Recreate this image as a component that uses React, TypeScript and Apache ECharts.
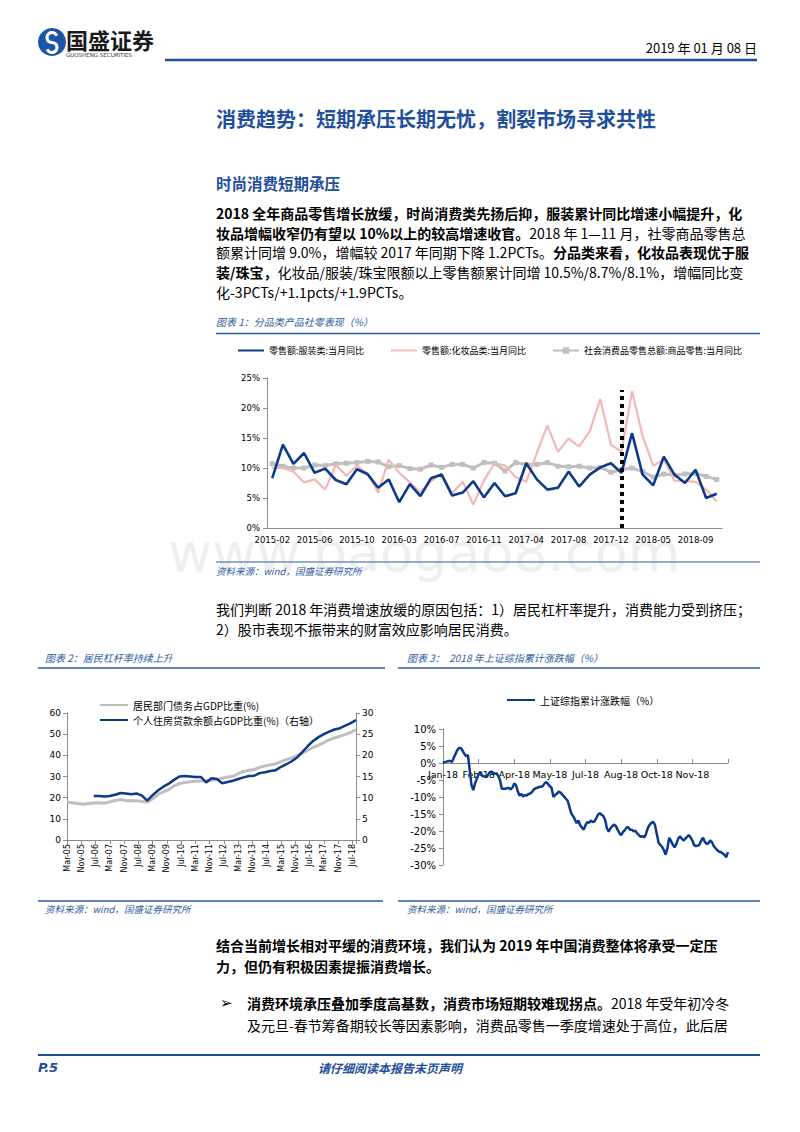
import React, { useEffect, useRef } from 'react';
import * as echarts from 'echarts';

// ---------- Chart 1: 分品类产品社零表现 ----------
const retailMonths = [
  '2015-02', '2015-03', '2015-04', '2015-05', '2015-06', '2015-07', '2015-08', '2015-09', '2015-10', '2015-11', '2015-12',
  '2016-02', '2016-03', '2016-04', '2016-05', '2016-06', '2016-07', '2016-08', '2016-09', '2016-10', '2016-11', '2016-12',
  '2017-02', '2017-03', '2017-04', '2017-05', '2017-06', '2017-07', '2017-08', '2017-09', '2017-10', '2017-11', '2017-12',
  '2018-02', '2018-03', '2018-04', '2018-05', '2018-06', '2018-07', '2018-08', '2018-09', '2018-10', '2018-11',
];
const apparelYoY = [
  8.3, 13.9, 10.7, 12.5, 9.2, 9.9, 8.0, 7.3, 9.8, 9.0, 6.7,
  8.1, 4.3, 7.3, 5.3, 8.3, 8.9, 5.4, 5.9, 7.8, 5.1, 7.5,
  5.3, 5.8, 10.8, 8.1, 6.4, 6.7, 9.4, 6.9, 8.9, 10.1, 10.8,
  9.2, 15.8, 8.9, 7.1, 11.9, 8.9, 7.5, 9.7, 5.0, 5.7,
];
const cosmeticsYoY = [
  10.0, 10.0, 9.4, 7.6, 8.1, 6.4, 10.5, 8.7, 10.4, 9.0, 5.9,
  11.4, 9.2, 7.6, 5.9, 7.8, 9.0, 5.8, 7.7, 3.9, 7.9, 10.8,
  10.4, 8.5, 7.7, 12.5, 17.1, 12.7, 14.9, 13.6, 16.1, 21.5, 13.9,
  12.7, 22.8, 15.3, 10.4, 11.4, 7.9, 7.8, 7.7, 6.4, 4.4,
];
const goodsRetailYoY = [
  10.7, 10.3, 10.0, 10.0, 10.5, 10.4, 10.7, 10.8, 10.9, 11.1, 11.0,
  10.2, 10.4, 9.9, 9.8, 10.5, 10.1, 10.6, 10.6, 10.0, 10.9, 10.8,
  9.5, 10.9, 10.6, 10.6, 10.9, 10.3, 10.2, 10.3, 10.0, 10.1, 9.3,
  9.7, 10.0, 9.4, 8.5, 9.0, 8.8, 9.0, 9.1, 8.6, 8.1,
];
const markerMonth = '2018-02';
const markerTop = 23;

// ---------- Chart 2: 居民杠杆率 ----------
const leverageTickLabels = [
  'Mar-05', 'Nov-05', 'Jul-06', 'Mar-07', 'Nov-07', 'Jul-08', 'Mar-09', 'Nov-09', 'Jul-10', 'Mar-11', 'Nov-11',
  'Jul-12', 'Mar-13', 'Nov-13', 'Jul-14', 'Mar-15', 'Nov-15', 'Jul-16', 'Mar-17', 'Nov-17', 'Jul-18',
];
const monthsPerTick = 8;
const lastMonth = 162; // Sep-18, months after Mar-05
// quarterly, from Mar-05 (month 0)
const householdDebtToGdp = [
  17.8, 17.6, 17.2, 16.9, 17.2, 17.5, 17.6, 17.4, 18.0, 18.7, 19.1, 18.6, 18.6, 18.5, 18.2, 17.9,
  19.5, 21.5, 22.8, 23.8, 25.5, 26.6, 27.2, 27.5, 27.8, 27.9, 28.0, 28.2, 28.6, 29.2, 29.8, 30.1,
  31.3, 32.4, 33.0, 33.3, 34.3, 35.0, 35.5, 36.0, 37.0, 38.0, 38.8, 39.9, 41.0, 42.4, 43.8, 44.8,
  46.0, 47.3, 48.3, 49.0, 49.8, 50.8, 52.2,
];
const debtStartMonth = 0;
// quarterly, from Jun-06 (month 15)
const mortgageToGdp = [
  10.4, 10.4, 10.3, 10.4, 10.7, 11.1, 11.0, 10.8, 11.0, 10.5, 9.3, 10.6, 11.7, 12.6, 13.3, 14.2,
  15.0, 15.1, 15.0, 14.9, 14.9, 13.6, 14.6, 14.4, 13.4, 13.7, 14.0, 14.4, 14.8, 15.1, 15.2, 15.8,
  16.0, 16.3, 16.5, 17.3, 17.9, 18.6, 19.5, 20.8, 22.2, 23.4, 24.3, 25.0, 25.6, 26.1, 26.4, 27.0,
  27.6, 28.3,
];
const mortgageStartMonth = 15;
const monthsPerQuarter = 3;

// ---------- Chart 3: 2018 上证综指累计涨跌幅 ----------
const shTickLabels = ['Jan-18', 'Feb-18', 'Apr-18', 'May-18', 'Jul-18', 'Aug-18', 'Oct-18', 'Nov-18', ''];
const pointsPerTick = 20;
const shYMin = -30;
const shYMax = 10;
const shCumReturn = [
  0.0, 0.3, 0.4, 0.6, 0.6, 0.3, 1.5, 2.6, 3.8, 4.4,
  4.4, 3.6, 2.7, 2.0, 2.3, -2.1, -6.5, -8.0, -6.0, -4.6,
  -3.3, -2.6, -3.8, -3.9, -4.1, -3.7, -2.9, -2.5, -3.0, -3.2,
  -3.0, -3.8, -5.0, -7.6, -7.6, -7.6, -7.4, -7.3, -7.8, -7.2,
  -6.0, -6.6, -8.4, -9.6, -9.1, -9.9, -9.4, -9.6, -9.1, -9.0,
  -8.5, -7.8, -7.4, -7.3, -7.0, -7.0, -6.8, -6.0, -5.6, -6.2,
  -6.8, -7.4, -10.0, -9.4, -9.0, -8.4, -8.7, -9.3, -9.9, -10.5,
  -11.1, -13.0, -14.8, -15.6, -16.6, -17.7, -16.9, -18.3, -19.0, -19.6,
  -18.3, -17.4, -17.6, -16.9, -17.4, -17.2, -16.3, -15.2, -14.8, -15.2,
  -15.6, -16.7, -19.2, -20.2, -19.2, -18.6, -18.1, -18.5, -19.6, -20.6,
  -21.2, -20.3, -19.8, -19.0, -18.9, -19.6, -19.6, -20.1, -19.9, -20.7,
  -21.2, -21.7, -21.5, -21.9, -20.8, -19.1, -18.2, -17.6, -17.3, -18.2,
  -20.8, -23.4, -24.1, -24.7, -25.6, -27.0, -25.0, -22.0, -22.9, -24.0,
  -24.8, -23.8, -22.3, -21.6, -22.2, -22.8, -22.3, -21.7, -21.2, -21.9,
  -22.8, -24.2, -24.4, -24.3, -24.0, -22.8, -22.0, -23.2, -23.8, -23.6,
  -22.8, -23.3, -24.4, -25.1, -25.6, -26.1, -26.2, -26.6, -27.0, -27.7,
  -26.2,
];

// ---------- styles ----------
const CJK = '"Noto Sans CJK SC", "Noto Sans", sans-serif';
const LAT = '"DejaVu Sans", "Noto Sans CJK SC", sans-serif';
const NAVY = '#0B3A8A';
const PINK = '#F2B8B8';
const GRAY = '#BFBFBF';
const HEAD_BLUE = '#1F4E9B';
const CAP_BLUE = '#2F5C9F';
const AXIS_GRAY = '#8C8C8C';

function txt(x: number, y: number, text: string, o: any = {}) {
  return {
    type: 'text',
    x,
    y,
    silent: true,
    z: o.z ?? 10,
    style: {
      text,
      fill: o.fill ?? '#000',
      fontSize: o.size ?? 14,
      fontFamily: o.family ?? CJK,
      fontWeight: o.weight ?? 'normal',
      fontStyle: o.italic ? 'italic' : 'normal',
      textAlign: o.align ?? 'left',
      textVerticalAlign: 'middle',
      rich: o.rich,
    },
  };
}

function hline(x1: number, x2: number, y: number, w: number, color: string) {
  return {
    type: 'line',
    silent: true,
    z: 10,
    shape: { x1, y1: y, x2, y2: y },
    style: { stroke: color, lineWidth: w },
  };
}

const boldRich = {
  b: { fontWeight: 'bold', fontSize: 14, fontFamily: CJK, fill: '#000' },
};

function buildGraphic() {
  const els: any[] = [];
  // header logo
  els.push({ type: 'circle', silent: true, z: 10, shape: { cx: 52, cy: 42, r: 14 }, style: { fill: '#1C55A4' } });
  els.push({
    type: 'arc', silent: true, z: 11,
    shape: { cx: 52, cy: 37.5, r: 5, startAngle: -0.35, endAngle: Math.PI / 2, clockwise: false },
    style: { stroke: '#fff', lineWidth: 3.2, fill: 'none' },
  });
  els.push({
    type: 'arc', silent: true, z: 11,
    shape: { cx: 52, cy: 47.5, r: 5, startAngle: -Math.PI / 2, endAngle: Math.PI - 0.35, clockwise: true },
    style: { stroke: '#fff', lineWidth: 3.2, fill: 'none' },
  });
  els.push(txt(66, 38.5, '国盛证券', { size: 22, weight: 'bold', fill: '#1a1a1a' }));
  els.push(txt(66, 55, 'GUOSHENG SECURITIES', { size: 5.5, family: LAT, fill: '#333' }));
  els.push(txt(757, 47, '2019 年 01 月 08 日', { size: 13, align: 'right', family: '"Liberation Sans Narrow", "Noto Sans CJK SC", sans-serif' }));
  els.push(hline(165, 757, 60, 2.5, HEAD_BLUE));

  // title & subtitle
  els.push(txt(216, 118, '消费趋势：短期承压长期无忧，割裂市场寻求共性', { size: 20, weight: 'bold', fill: HEAD_BLUE }));
  els.push(txt(216, 183, '时尚消费短期承压', { size: 15.5, weight: 'bold', fill: HEAD_BLUE }));

  // paragraph 1
  const p1 = [
    '{b|2018 全年商品零售增长放缓，时尚消费类先扬后抑，服装累计同比增速小幅提升，化}',
    '{b|妆品增幅收窄仍有望以 10%以上的较高增速收官。}2018 年 1—11 月，社零商品零售总',
    '额累计同增 9.0%，增幅较 2017 年同期下降 1.2PCTs。{b|分品类来看，化妆品表现优于服}',
    '{b|装/珠宝，}化妆品/服装/珠宝限额以上零售额累计同增 10.5%/8.7%/8.1%，增幅同比变',
    '化-3PCTs/+1.1pcts/+1.9PCTs。',
  ];
  p1.forEach((s, i) => els.push(txt(216, 213 + i * 19.7, s, { rich: boldRich })));

  // chart 1 caption / source
  els.push(txt(216, 321, '图表 1：分品类产品社零表现（%）', { size: 10, italic: true, fill: CAP_BLUE }));
  els.push(hline(216, 760, 333.5, 1.5, CAP_BLUE));
  els.push(txt(168, 552, 'www.baogao8.com', { size: 54, family: LAT, fill: '#efefef', z: 0 }));
  els.push(hline(216, 760, 562, 1, CAP_BLUE));
  els.push(txt(216, 571, '资料来源：wind，国盛证券研究所', { size: 9.5, italic: true, fill: CAP_BLUE }));

  // paragraph 2
  els.push(txt(216, 609, '我们判断 2018 年消费增速放缓的原因包括：1）居民杠杆率提升，消费能力受到挤压；'));
  els.push(txt(216, 629, '2）股市表现不振带来的财富效应影响居民消费。'));

  // chart 2/3 captions
  els.push(txt(45, 657, '图表 2：居民杠杆率持续上升', { size: 10, italic: true, fill: CAP_BLUE }));
  els.push(hline(38, 385, 668, 1.5, CAP_BLUE));
  els.push(txt(407, 657, '图表 3：  2018 年上证综指累计涨跌幅（%）', { size: 10, italic: true, fill: CAP_BLUE }));
  els.push(hline(398, 760, 668, 1.5, CAP_BLUE));
  els.push(hline(38, 383, 901, 1.5, CAP_BLUE));
  els.push(txt(45, 909, '资料来源：wind，国盛证券研究所', { size: 9.5, italic: true, fill: CAP_BLUE }));
  els.push(hline(398, 760, 901, 1.5, CAP_BLUE));
  els.push(txt(407, 909, '资料来源：wind，国盛证券研究所', { size: 9.5, italic: true, fill: CAP_BLUE }));

  // paragraph 3
  els.push(txt(216, 945, '结合当前增长相对平缓的消费环境，我们认为 2019 年中国消费整体将承受一定压', { weight: 'bold' }));
  els.push(txt(216, 966, '力，但仍有积极因素提振消费增长。', { weight: 'bold' }));

  // bullet
  els.push(txt(220, 1003, '➢', { size: 15, family: LAT }));
  els.push(txt(247, 1003, '{b|消费环境承压叠加季度高基数，消费市场短期较难现拐点。}2018 年受年初冷冬', { rich: boldRich }));
  els.push(txt(247, 1025, '及元旦-春节筹备期较长等因素影响，消费品零售一季度增速处于高位，此后居'));

  // footer
  els.push(hline(38, 760, 1055, 2, HEAD_BLUE));
  els.push(txt(38, 1067, 'P.5', { size: 13, weight: 'bold', italic: true, fill: HEAD_BLUE, family: LAT }));
  els.push(txt(318, 1067, '请仔细阅读本报告末页声明', { size: 12, weight: 'bold', italic: true, fill: HEAD_BLUE }));
  return els;
}

function buildOption() {
  const axisLineStyle = { lineStyle: { color: AXIS_GRAY, width: 1 } };
  const debtData = householdDebtToGdp.map((v, i) => [debtStartMonth + i * monthsPerQuarter, v]);
  const mortgageData = mortgageToGdp.map((v, i) => [mortgageStartMonth + i * monthsPerQuarter, v]);
  const shCategories = shCumReturn.map((_, i) => String(i));

  const grid3 = { left: 443, top: 729, width: 285, height: 136 };
  // place the x axis of chart 3 on its zero line (labels sit just below it)
  const shZeroOffset = -grid3.height * (0 - shYMin) / (shYMax - shYMin);

  const n1 = '零售额:服装类:当月同比';
  const n2 = '零售额:化妆品类:当月同比';
  const n3 = '社会消费品零售总额:商品零售:当月同比';
  const n4 = '居民部门债务占GDP比重(%)';
  const n5 = '个人住房贷款余额占GDP比重(%)（右轴）';
  const n6 = '上证综指累计涨跌幅（%）';
  const noDot = { itemStyle: { opacity: 0 } };

  return {
    animation: false,
    backgroundColor: '#ffffff',
    textStyle: { fontFamily: LAT },
    graphic: { elements: buildGraphic() },
    legend: [
      {
        data: [{ name: n1, ...noDot }, { name: n2, ...noDot }, n3],
        left: 237, top: 346, padding: 0,
        itemWidth: 26, itemHeight: 8, itemGap: 26,
        textStyle: { fontSize: 9, fontFamily: CJK, color: '#000' },
      },
      {
        data: [{ name: n4, ...noDot }, { name: n5, ...noDot }],
        orient: 'vertical',
        left: 99, top: 700, padding: 0,
        itemWidth: 28, itemHeight: 10, itemGap: 5,
        textStyle: { fontSize: 10, fontFamily: CJK, color: '#000' },
      },
      {
        data: [{ name: n6, ...noDot }],
        left: 506, top: 695, padding: 0,
        itemWidth: 28, itemHeight: 10,
        textStyle: { fontSize: 10, fontFamily: CJK, color: '#000' },
      },
    ],
    grid: [
      { left: 267, top: 378, width: 455, height: 150 },
      { left: 67, top: 713, width: 289, height: 127 },
      grid3,
    ],
    xAxis: [
      {
        type: 'category', gridIndex: 0, data: retailMonths, boundaryGap: true,
        axisLine: axisLineStyle,
        axisTick: { interval: 0, length: 4, lineStyle: { color: AXIS_GRAY } },
        axisLabel: { interval: 3, fontSize: 8.5, color: '#000', margin: 8, fontFamily: LAT },
        splitLine: { show: false },
      },
      {
        type: 'value', gridIndex: 1, min: 0, max: lastMonth, interval: monthsPerTick,
        axisLine: axisLineStyle,
        axisTick: { show: true, length: 4, lineStyle: { color: AXIS_GRAY } },
        axisLabel: {
          rotate: 90, fontSize: 8, color: '#000', margin: 4, fontFamily: LAT,
          formatter: (v: number) => (v % monthsPerTick === 0 ? leverageTickLabels[v / monthsPerTick] ?? '' : ''),
        },
        splitLine: { show: false },
      },
      {
        type: 'category', gridIndex: 2, data: shCategories, boundaryGap: false,
        offset: shZeroOffset,
        axisLine: { onZero: false, lineStyle: { color: AXIS_GRAY } },
        axisTick: { inside: true, interval: pointsPerTick - 1, length: 4, lineStyle: { color: AXIS_GRAY } },
        axisLabel: {
          interval: pointsPerTick - 1, fontSize: 9.5, color: '#000', margin: 7, fontFamily: LAT,
          formatter: (_: string, idx: number) => (idx % pointsPerTick === 0 ? shTickLabels[idx / pointsPerTick] ?? '' : ''),
        },
        splitLine: { show: false },
      },
    ],
    yAxis: [
      {
        type: 'value', gridIndex: 0, min: 0, max: 25, interval: 5,
        axisLine: { show: true, ...axisLineStyle },
        axisTick: { show: true, length: 4, lineStyle: { color: AXIS_GRAY } },
        axisLabel: { formatter: '{value}%', fontSize: 8.5, color: '#000', margin: 7, fontFamily: LAT },
        splitLine: { show: false },
      },
      {
        type: 'value', gridIndex: 1, position: 'left', min: 0, max: 60, interval: 10,
        axisLine: { show: true, ...axisLineStyle },
        axisTick: { show: true, length: 4, lineStyle: { color: AXIS_GRAY } },
        axisLabel: { fontSize: 9, color: '#000', margin: 6, fontFamily: LAT },
        splitLine: { show: false },
      },
      {
        type: 'value', gridIndex: 1, position: 'right', min: 0, max: 30, interval: 5,
        axisLine: { show: true, ...axisLineStyle },
        axisTick: { show: true, length: 4, lineStyle: { color: AXIS_GRAY } },
        axisLabel: { fontSize: 9, color: '#000', margin: 6, fontFamily: LAT },
        splitLine: { show: false },
      },
      {
        type: 'value', gridIndex: 2, min: shYMin, max: shYMax, interval: 5,
        axisLine: { show: true, ...axisLineStyle },
        axisTick: { show: true, length: 4, lineStyle: { color: AXIS_GRAY } },
        axisLabel: { formatter: '{value}%', fontSize: 10, color: '#000', margin: 7, fontFamily: LAT },
        splitLine: { show: false },
      },
    ],
    series: [
      {
        name: n3, type: 'line', xAxisIndex: 0, yAxisIndex: 0, data: goodsRetailYoY,
        symbol: 'rect', symbolSize: 5, showSymbol: true,
        itemStyle: { color: GRAY }, lineStyle: { color: GRAY, width: 3 }, z: 2,
      },
      {
        name: n2, type: 'line', xAxisIndex: 0, yAxisIndex: 0, data: cosmeticsYoY,
        symbol: 'none', itemStyle: { color: PINK }, lineStyle: { color: PINK, width: 2.2 }, z: 3,
      },
      {
        name: n1, type: 'line', xAxisIndex: 0, yAxisIndex: 0, data: apparelYoY,
        symbol: 'none', itemStyle: { color: NAVY }, lineStyle: { color: NAVY, width: 2.6 }, z: 4,
        markLine: {
          silent: true, symbol: 'none', label: { show: false },
          lineStyle: { color: '#000', type: [4, 4], width: 4 },
          data: [[{ coord: [markerMonth, 0] }, { coord: [markerMonth, markerTop] }]],
        },
      },
      {
        name: n4, type: 'line', xAxisIndex: 1, yAxisIndex: 1, data: debtData,
        symbol: 'none', itemStyle: { color: GRAY }, lineStyle: { color: GRAY, width: 3 }, z: 2,
      },
      {
        name: n5, type: 'line', xAxisIndex: 1, yAxisIndex: 2, data: mortgageData,
        symbol: 'none', itemStyle: { color: NAVY }, lineStyle: { color: NAVY, width: 2.5 }, z: 3,
      },
      {
        name: n6, type: 'line', xAxisIndex: 2, yAxisIndex: 3, data: shCumReturn,
        symbol: 'none', itemStyle: { color: NAVY }, lineStyle: { color: NAVY, width: 2.5 }, z: 3,
      },
    ],
  };
}

export default function App() {
  const ref = useRef<HTMLDivElement>(null);
  useEffect(() => {
    if (!ref.current) return;
    const chart = echarts.init(ref.current, null, { renderer: 'svg' });
    chart.setOption(buildOption() as any);
    return () => chart.dispose();
  }, []);
  return (
    <div
      ref={ref}
      style={{ position: 'absolute', left: 0, top: 0, width: 800, height: 1132, background: '#fff' }}
    />
  );
}
